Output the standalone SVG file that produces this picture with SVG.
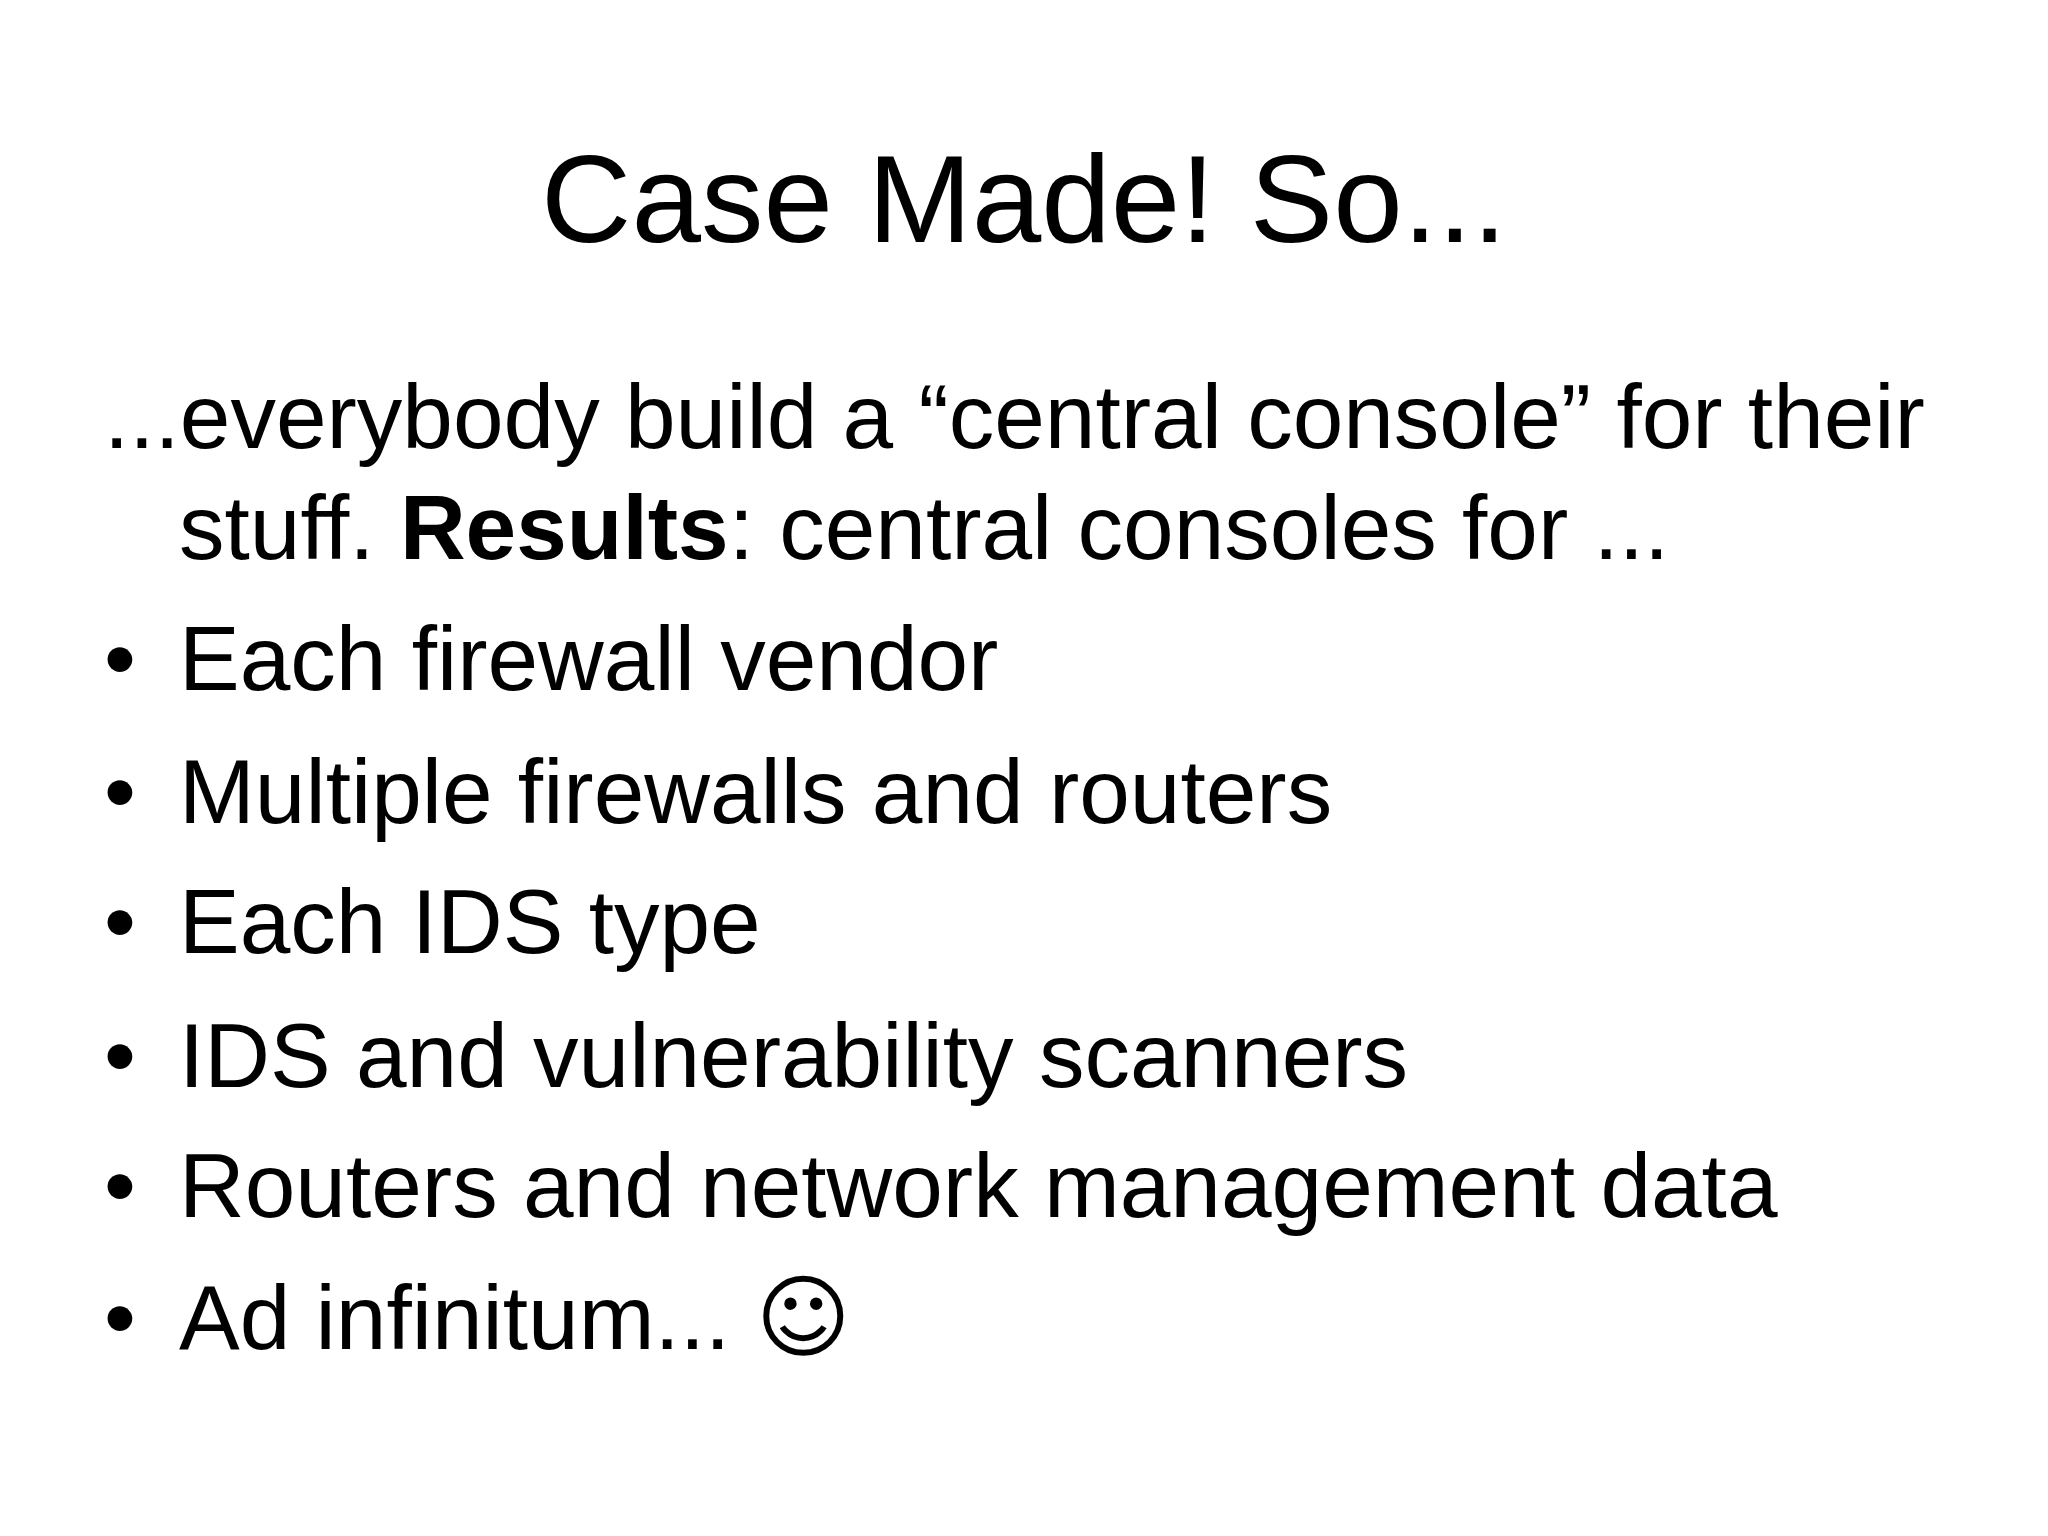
<svg xmlns="http://www.w3.org/2000/svg" width="2048" height="1536" viewBox="0 0 2048 1536">
<style>
text{font-family:"Liberation Sans",Arial,sans-serif;fill:#000}
.t{font-size:125px}
.b{font-size:91px}
</style>
<rect width="2048" height="1536" fill="#fff"/>
<text class="t" x="1024" y="242" text-anchor="middle">Case Made! So...</text>
<g class="b">
<text class="b" x="104" y="448">...everybody build a “central console” for their</text>
<text class="b" x="179" y="559">stuff. <tspan font-weight="bold">Results</tspan>: central consoles for ...</text>
<text class="b" x="104" y="690">•</text><text class="b" x="179" y="690">Each firewall vendor</text>
<text class="b" x="104" y="823">•</text><text class="b" x="179" y="823">Multiple firewalls and routers</text>
<text class="b" x="104" y="953">•</text><text class="b" x="179" y="953">Each IDS type</text>
<text class="b" x="104" y="1087">•</text><text class="b" x="179" y="1087">IDS and vulnerability scanners</text>
<text class="b" x="104" y="1217">•</text><text class="b" x="179" y="1217">Routers and network management data</text>
<text class="b" x="104" y="1349">•</text><text class="b" x="179" y="1349">Ad infinitum... <tspan font-family="DejaVu Sans,sans-serif">☺</tspan></text>
</g>
</svg>
